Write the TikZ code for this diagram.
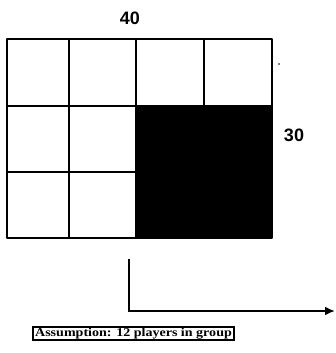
\documentclass[tikz,border=0pt]{standalone}
\usepackage{fontspec}
\setmainfont{Liberation Serif}
\newfontfamily\labfont{Liberation Sans}
\usetikzlibrary{arrows.meta}
\begin{document}
\begin{tikzpicture}[x=1pt,y=-1pt,
  gridline/.style={line width=2.8pt,line join=round},
  dimlabel/.style={font=\labfont\bfseries\fontsize{18}{18}\selectfont,inner sep=0pt},
  notebox/.style={draw,line width=1.5pt,inner xsep=2pt,inner ysep=0.8pt,font=\bfseries\fontsize{12}{12}\selectfont},
  flow/.style={line width=2.3pt,-{Latex[length=10pt,width=9pt]}}]
\useasboundingbox (0,0) rectangle (336,353);
% shaded block
\fill (136,106) rectangle (272,238);
% grid
\draw[gridline] (7,39) rectangle (272,238);
\draw[gridline] (7,106) -- (272,106);
\draw[gridline] (7,172) -- (136,172);
\draw[gridline] (69,39) -- (69,238);
\draw[gridline] (136,39) -- (136,238);
\draw[gridline] (204,39) -- (204,106);
% labels
\node[dimlabel] (w) at (130,18) {40};
\node[dimlabel] (h) at (294,135) {30};
\fill (279,64) circle (0.9pt);
% arrow
\coordinate (a0) at (129,259);
\coordinate (a1) at (129,311);
\coordinate (a2) at (335,311);
\draw[flow] (a0) -- (a1) -- (a2);
\node[notebox] (note) at (133.5,333.5) {\scalebox{1.17}[1]{Assumption: 12 players in group}};
\end{tikzpicture}
\end{document}
